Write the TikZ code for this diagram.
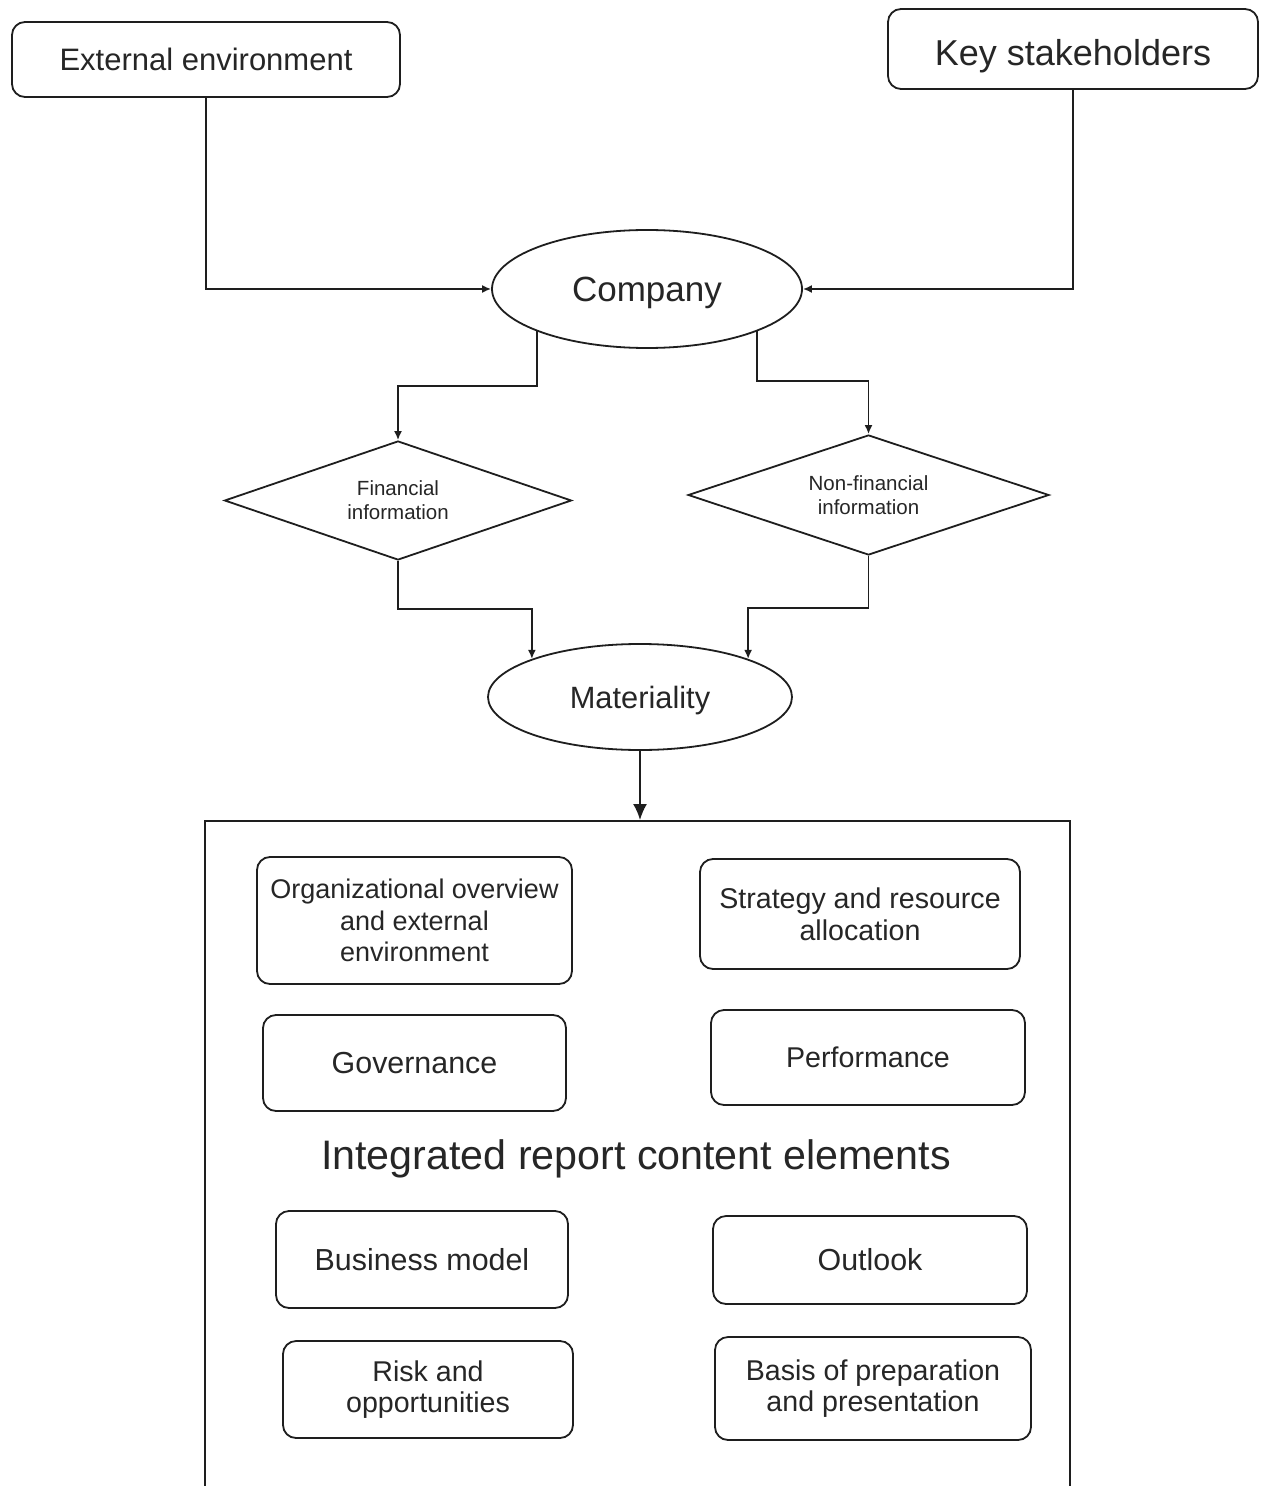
\documentclass[tikz,border=0pt]{standalone}
\usepackage{fontspec}
\setmainfont{Liberation Sans}
\usetikzlibrary{shapes.geometric,arrows.meta}
\definecolor{ink}{HTML}{1E1E1E}
\definecolor{txt}{HTML}{262626}

\begin{document}
\begin{tikzpicture}[x=0.5pt,y=-0.5pt,
  rbox/.style={draw=ink, line width=0.9pt, rounded corners=6.5pt, inner sep=0pt, align=center, text=txt},
  oval/.style={draw=ink, line width=0.9pt, ellipse, inner sep=0pt, text=txt, text depth=0pt},
  decision/.style={draw=ink, line width=0.9pt, diamond, aspect=3, inner sep=0pt, align=center, text=txt,
    font=\fontsize{10.25pt}{12pt}\selectfont},
  elem/.style={rbox, font=\fontsize{14.3pt}{15.9pt}\selectfont},
  link/.style={draw=ink, line width=0.9pt, -{Latex[length=4.5pt,width=4pt]}},
  bigtip/.style={draw=ink, line width=0.9pt, -{Latex[length=8pt,width=7pt]}},
]
\clip (0,0) rectangle (1267,1486);
\fill[white] (0,0) rectangle (1267,1486);

% top level boxes
\node[rbox, minimum width=194pt, minimum height=37.5pt, font=\fontsize{15.5pt}{18pt}\selectfont]
  (ext) at (206,59.5) {External environment};
\node[rbox, minimum width=185pt, minimum height=40pt]
  (key) at (1073,49) {};
\node[text=txt, text depth=0pt, font=\fontsize{18pt}{21pt}\selectfont]
  (keytext) at (1073,52.5) {Key stakeholders};

% company and the two information branches
\node[oval, minimum width=155pt, minimum height=59pt, font=\fontsize{17.5pt}{21pt}\selectfont]
  (comp) at (647,289) {Company};
\node[decision, minimum width=173.5pt, minimum height=59.5pt]
  (fin) at (398,500.5) {Financial\\information};
\node[decision, minimum width=180.5pt, minimum height=60pt]
  (nfin) at (868.5,495) {Non-financial\\information};
\node[oval, minimum width=152pt, minimum height=53pt, font=\fontsize{15.4pt}{18pt}\selectfont]
  (mat) at (640,697) {Materiality};

% frame holding the content elements
\node[draw=ink, line width=0.9pt, minimum width=432.5pt, minimum height=400pt, anchor=north, inner sep=0pt]
  (frame) at (637.5,820) {};
\node[text=txt, text depth=0pt, font=\fontsize{20.6pt}{24pt}\selectfont]
  (title) at (636,1155) {Integrated report content elements};

\node[elem, minimum width=157.5pt, minimum height=63.5pt, font=\fontsize{13.5pt}{15.8pt}\selectfont]
  (org) at (414.5,920.5) {Organizational overview\\and external\\environment};
\node[elem, minimum width=160pt, minimum height=55pt] (strat) at (860,914)
  {Strategy and resource\\allocation};
\node[elem, minimum width=151.5pt, minimum height=48pt, font=\fontsize{15.2pt}{18pt}\selectfont]
  (gov) at (414.5,1063) {Governance};
\node[elem, minimum width=157pt, minimum height=47.5pt] (perf) at (868,1057.5) {Performance};
\node[elem, minimum width=146pt, minimum height=48.5pt, font=\fontsize{15.2pt}{18pt}\selectfont]
  (bm) at (422,1259.5) {Business model};
\node[elem, minimum width=157pt, minimum height=44pt, font=\fontsize{15.2pt}{18pt}\selectfont]
  (out) at (870,1260) {Outlook};
\node[elem, minimum width=145pt, minimum height=48.5pt] (risk) at (428,1389.5)
  {Risk and\\opportunities};
\node[elem, minimum width=158pt, minimum height=51.5pt] (basis) at (873,1388.5)
  {Basis of preparation\\and presentation};

% connectors
\draw[link] (ext.south) |- (comp.west);
\draw[link] (key.south) |- (comp.east);
\draw[link] (comp.south west) -- ++(0,55) -| (fin.north);
\draw[link] (comp.south east) -- ++(0,50) -| (nfin.north);
\draw[link] (fin.south) -- ++(0,48) -| (mat.north west);
\draw[link] (nfin.south) -- ++(0,52) -| (mat.north east);
\draw[bigtip] (mat.south) -- (mat.south |- frame.north);
\end{tikzpicture}
\end{document}
